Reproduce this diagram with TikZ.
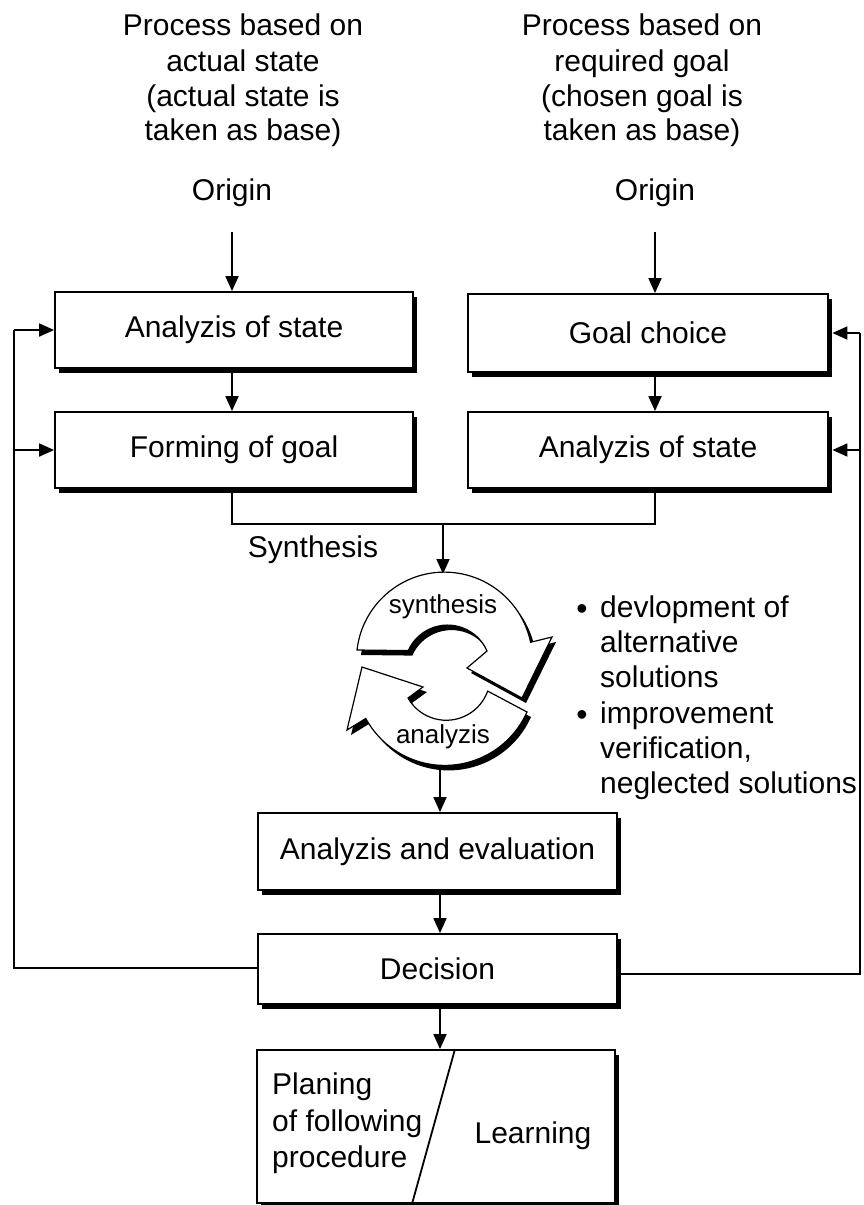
\documentclass[tikz,border=0pt]{standalone}
\usepackage{fontspec}
\setmainfont{Liberation Sans}
\usetikzlibrary{arrows.meta,shadows}

\begin{document}
\begin{tikzpicture}[x=1pt,y=-1pt,
  every node/.style={font=\fontsize{30}{35}\selectfont},
  txt/.style={inner sep=0pt},
  box/.style={draw,line width=1.8pt,fill=white,inner sep=0pt,
    minimum width=358pt,minimum height=76pt,
    drop shadow={shadow xshift=3.5pt,shadow yshift=-5pt,fill=black,opacity=1}},
  conn/.style={line width=1.8pt},
  arr/.style={conn,-{Triangle[length=15pt,width=13pt]}},
  small/.style={inner sep=0pt,font=\fontsize{26}{30}\selectfont},
  bul/.style={inner sep=0pt,font=\fontsize{32}{32}\selectfont}]

\useasboundingbox (0,0) rectangle (863,1205);

% column headings
\node[txt,anchor=base] (hl1) at (243,35)  {Process based on};
\node[txt,anchor=base] (hl2) at (243,71)  {actual state};
\node[txt,anchor=base] (hl3) at (243,106) {(actual state is};
\node[txt,anchor=base] (hl4) at (243,140) {taken as base)};
\node[txt,anchor=base] (hr1) at (642,35)  {Process based on};
\node[txt,anchor=base] (hr2) at (642,71)  {required goal};
\node[txt,anchor=base] (hr3) at (642,106) {(chosen goal is};
\node[txt,anchor=base] (hr4) at (642,140) {taken as base)};
\node[txt,anchor=base] (oL) at (232,200) {Origin};
\node[txt,anchor=base] (oR) at (655,200) {Origin};

% process boxes
\node[box] (b1) at (234,330) {Analyzis of state};
\node[box] (b2) at (234,450) {Forming of goal};
\node[box,minimum width=360pt,minimum height=78pt] (b3) at (648,333) {Goal choice};
\node[box,minimum width=360pt] (b4) at (648,450) {Analyzis of state};
\node[box,minimum width=359pt,minimum height=77pt] (ae) at (437.5,851.5) {Analyzis and evaluation};
\node[box,minimum width=359pt,minimum height=70pt] (dec) at (437.5,969) {Decision};
\node[box,minimum width=358pt,minimum height=153pt] (lb) at (436,1126.5) {};

% split final box
\draw[conn] ([xshift=19pt]lb.north) -- ([xshift=-24pt]lb.south);
\node[txt,anchor=base west] (pl1) at (272,1094) {Planing};
\node[txt,anchor=base west] (pl2) at (272,1131) {of following};
\node[txt,anchor=base west] (pl3) at (272,1167) {procedure};
\node[txt,anchor=base] (learn) at (533,1143) {Learning};

% flow from origins
\draw[arr] ([yshift=-26pt]oL.south) -- (oL.south |- b1.north);
\draw[arr] ([yshift=-26pt]oR.south) -- (oR.south |- b3.north);
\draw[arr] (oL.south |- b1.south) -- (oL.south |- b2.north);
\draw[arr] (oR.south |- b3.south) -- (oR.south |- b4.north);

% merge into synthesis
\coordinate (m) at (443,524);
\coordinate (ctop) at (443,574);
\draw[conn] (oL.south |- b2.south) |- (m) -| (oR.south |- b4.south);
\draw[arr] (m) -- (ctop);
\node[txt,anchor=base] (synl) at (313,557) {Synthesis};

% circular synthesis / analysis arrows
\def\synpath{(357,650) arc[start angle=186.6, end angle=348.3, radius=88]
  -- (552,637) -- (522,698) -- (467,668) -- (487,651)
  arc[start angle=336.6, end angle=204, radius=43] -- cycle}
\def\anapath{(527,712) arc[start angle=24, end angle=151.4, radius=90]
  -- (347,730) -- (362,667) -- (423,687) -- (408,698)
  arc[start angle=150.4, end angle=19.7, radius=44] -- cycle}
\fill[black,shift={(4,5)}] \anapath;
\draw[fill=white,line width=1.2pt,line join=miter] \anapath;
\fill[black,shift={(4,5)}] \synpath;
\draw[fill=white,line width=1.2pt,line join=miter] \synpath;
\node[small,anchor=base] (syn) at (443,613) {synthesis};
\node[small,anchor=base] (ana) at (443,743) {analyzis};

% bullet list
\node[bul] (bu1) at (582,612) {•};
\node[bul] (bu2) at (582,718) {•};
\node[txt,anchor=base west] (t1) at (600,617) {devlopment of};
\node[txt,anchor=base west] (t2) at (600,652) {alternative};
\node[txt,anchor=base west] (t3) at (600,687) {solutions};
\node[txt,anchor=base west] (t4) at (600,723) {improvement};
\node[txt,anchor=base west] (t5) at (600,758) {verification,};
\node[txt,anchor=base west] (t6) at (600,793) {neglected solutions};

% down to evaluation and decision
\coordinate (cbot) at (440,770);
\draw[arr] (cbot) -- (cbot |- ae.north);
\draw[arr] (cbot |- ae.south) -- ++(0,5) -- (cbot |- dec.north);
\draw[arr] (cbot |- dec.south) -- ++(0,5) -- (cbot |- lb.north);

% feedback loops
\coordinate (fl) at (14,968);
\coordinate (fr) at (860,974);
\draw[conn] (dec.west |- fl) -- (fl) -- (fl |- b1.west);
\draw[arr] (fl |- b1.west) -- (b1.west);
\draw[arr] (fl |- b2.west) -- (b2.west);
\draw[conn] ([xshift=3.5pt]dec.east |- fr) -- (fr) -- (fr |- b3.east);
\draw[arr,shorten >=3.5pt] (fr |- b3.east) -- (b3.east);
\draw[arr,shorten >=3.5pt] (fr |- b4.east) -- (b4.east);
\end{tikzpicture}
\end{document}
